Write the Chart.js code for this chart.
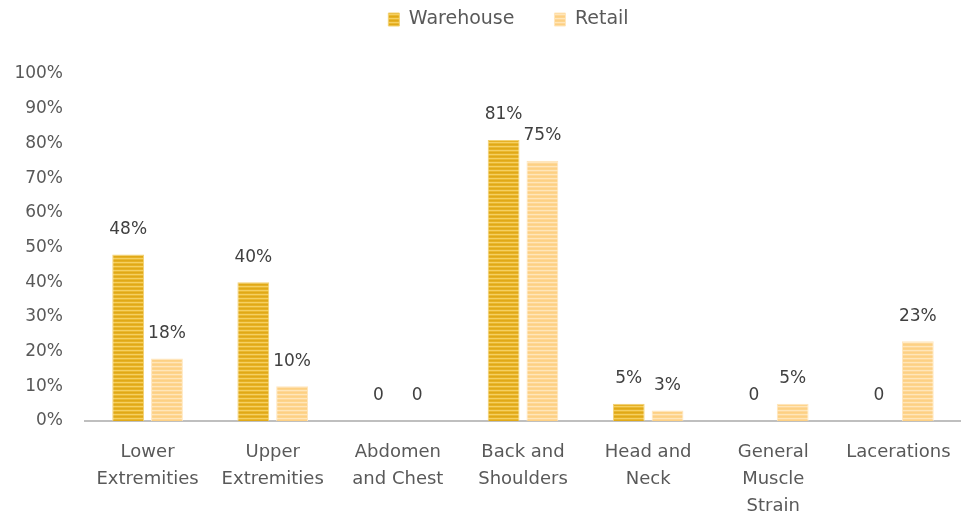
<!DOCTYPE html>
<html lang="en">
<head>
<meta charset="UTF-8">
<title>Injury Locations: Warehouse vs Retail</title>
<script src="https://cdn.jsdelivr.net/npm/chart.js"></script>
<style>body{margin:0;background:#fff}</style>
</head>
<body>
<canvas id="injuryChart" width="961" height="513"></canvas>
<script>
// data
const categories = [
    ['Lower', 'Extremities'],
    ['Upper', 'Extremities'],
    ['Abdomen', 'and Chest'],
    ['Back and', 'Shoulders'],
    ['Head and', 'Neck'],
    ['General', 'Muscle', 'Strain'],
    ['Lacerations']
];
const warehouseValues = [48, 40, 0, 81, 5, 0, 0];
const retailValues = [18, 10, 0, 75, 3, 5, 23];

const FONT = '"DejaVu Sans", sans-serif';

// horizontal striped fill like the original bars
function stripes(rows) {
    const c = document.createElement('canvas');
    c.width = 4;
    c.height = rows.length;
    const g = c.getContext('2d');
    rows.forEach((col, i) => {
        g.fillStyle = col;
        g.fillRect(0, i, 4, 1);
    });
    return g.createPattern(c, 'repeat');
}
const warehouseFill = stripes(['#E0A917', '#E6B126', '#F5D062', '#EAB830']);
const retailFill = stripes(['#FDD083', '#FDD48C', '#FFE6BA', '#FED797']);

// value labels above the bars
const barLabels = {
    id: 'barLabels',
    afterDatasetsDraw(chart) {
        const ctx = chart.ctx;
        ctx.save();
        ctx.font = '17px ' + FONT;
        ctx.fillStyle = '#404040';
        ctx.textAlign = 'center';
        ctx.textBaseline = 'middle';
        chart.data.datasets.forEach((ds, i) => {
            chart.getDatasetMeta(i).data.forEach((bar, j) => {
                const v = ds.data[j];
                ctx.fillText(v === 0 ? '0' : v + '%', bar.x, bar.y - 25);
            });
        });
        ctx.restore();
    }
};

// extra room under the legend, and nudge it a bit to the right
const legendGap = {
    id: 'legendGap',
    beforeInit(chart) {
        const fit = chart.legend.fit;
        chart.legend.fit = function () {
            fit.bind(chart.legend)();
            this.height += 35;
        };
    },
    afterLayout(chart) {
        chart.legend.left += 28;
        chart.legend.right += 28;
    }
};

new Chart(document.getElementById('injuryChart').getContext('2d'), {
    type: 'bar',
    data: {
        labels: categories,
        datasets: [{
            label: 'Warehouse',
            data: warehouseValues,
            backgroundColor: warehouseFill,
            borderColor: '#F2D173',
            borderWidth: 1,
            categoryPercentage: 0.62,
            barPercentage: 0.82
        }, {
            label: 'Retail',
            data: retailValues,
            backgroundColor: retailFill,
            borderColor: '#FFE6BD',
            borderWidth: 1,
            categoryPercentage: 0.62,
            barPercentage: 0.82
        }]
    },
    options: {
        responsive: false,
        animation: false,
        layout: { padding: { top: -30, left: 0, right: 0, bottom: 0 } },
        plugins: {
            legend: {
                position: 'top',
                labels: {
                    boxWidth: 11,
                    boxHeight: 13,
                    padding: 40,
                    color: '#595959',
                    font: { family: FONT, size: 19 }
                }
            },
            tooltip: { enabled: false }
        },
        scales: {
            x: {
                afterFit(scale) { scale.height = 92; },
                grid: { display: false },
                border: { color: '#BFBFBF', width: 2 },
                ticks: {
                    color: '#595959',
                    maxRotation: 0,
                    autoSkip: false,
                    padding: 10,
                    font: { family: FONT, size: 18, lineHeight: 1.5 }
                }
            },
            y: {
                min: 0,
                max: 100,
                afterFit(scale) { scale.width = 85; },
                grid: { display: false, drawTicks: false },
                border: { display: false },
                ticks: {
                    stepSize: 10,
                    color: '#595959',
                    padding: 22,
                    font: { family: FONT, size: 17 },
                    callback: v => v + '%'
                }
            }
        }
    },
    plugins: [barLabels, legendGap]
});
</script>
</body>
</html>
